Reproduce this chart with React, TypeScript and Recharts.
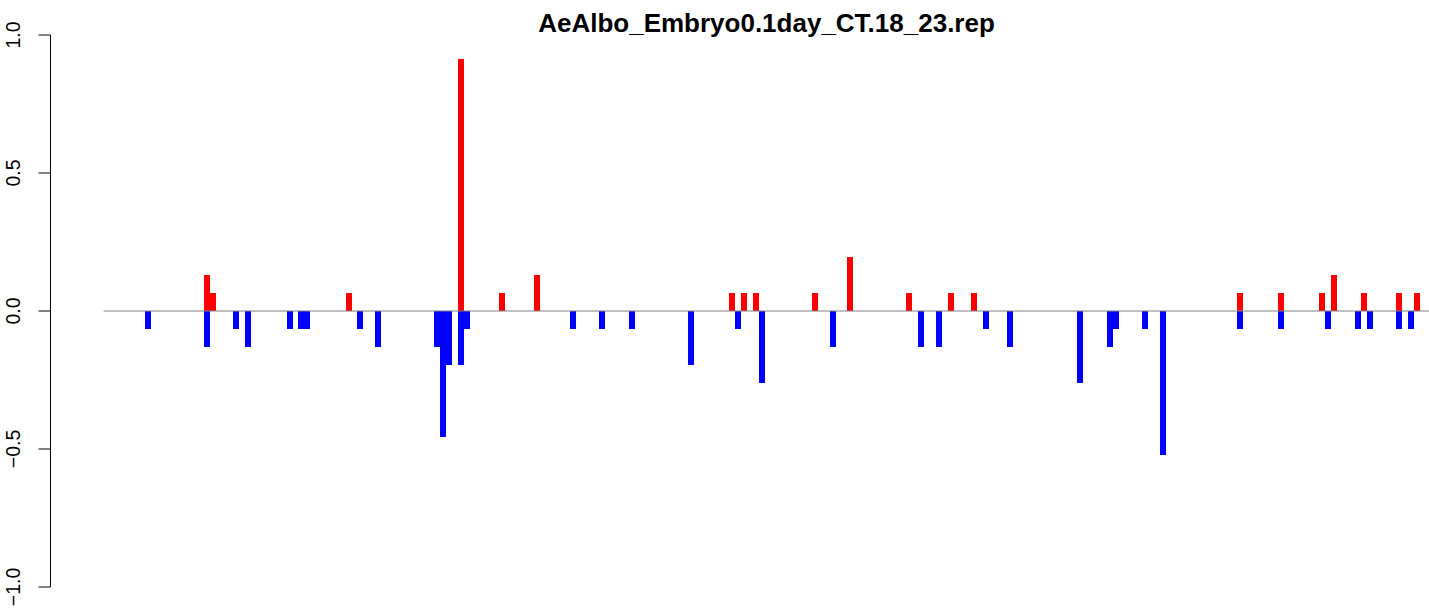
import React from "react";
import { BarChart, Bar, XAxis, YAxis, ReferenceLine } from "recharts";

// bar slot index (one slot per bar position)
const barIndex = [0, 10, 11, 15, 17, 24, 26, 27, 34, 36, 39, 49, 50, 51, 53, 54, 60, 66, 72, 77, 82, 92, 99, 100, 101, 103, 104, 113, 116, 119, 129, 131, 134, 136, 140, 142, 146, 158, 163, 164, 169, 172, 185, 192, 199, 200, 201, 205, 206, 207, 212, 214, 215];
// positive part (red)
const upValue = [0, 0.13, 0.065, 0, 0, 0, 0, 0, 0.065, 0, 0, 0, 0, 0, 0.913, 0, 0.065, 0.13, 0, 0, 0, 0, 0.065, 0, 0.065, 0.065, 0, 0.065, 0, 0.196, 0.065, 0, 0, 0.065, 0.065, 0, 0, 0, 0, 0, 0, 0, 0.065, 0.065, 0.065, 0, 0.13, 0, 0.065, 0, 0.065, 0, 0.065];
// negative part (blue)
const downValue = [-0.065, -0.13, 0, -0.065, -0.13, -0.065, -0.065, -0.065, 0, -0.065, -0.13, -0.13, -0.457, -0.196, -0.196, -0.065, 0, 0, -0.065, -0.065, -0.065, -0.196, 0, -0.065, 0, 0, -0.261, 0, -0.13, 0, 0, -0.13, -0.13, 0, 0, -0.065, -0.13, -0.261, -0.13, -0.065, -0.065, -0.522, -0.065, -0.065, 0, -0.065, 0, -0.065, 0, -0.065, -0.065, -0.065, 0];

const firstSlot = -16;
const lastSlot = 218;
const lineStartSlot = -7;

const yTicks = [-1, -0.5, 0, 0.5, 1];
const yTickLabels = ["\u22121.0", "\u22120.5", "0.0", "0.5", "1.0"];

const title = "AeAlbo_Embryo0.1day_CT.18_23.rep";

const data: { idx: number; up: number; down: number }[] = [];
for (let s = firstSlot; s <= lastSlot; s++) {
  const k = barIndex.indexOf(s);
  data.push({ idx: s, up: k >= 0 ? upValue[k] : 0, down: k >= 0 ? downValue[k] : 0 });
}

const FONT = "'Liberation Sans', Arial, Helvetica, sans-serif";

const YTick = (props: any) => {
  const { x, y, payload } = props;
  const i = yTicks.indexOf(payload.value);
  const label = i >= 0 ? yTickLabels[i] : String(payload.value);
  return (
    <text
      x={x}
      y={y}
      transform={`rotate(-90, ${x}, ${y})`}
      textAnchor="middle"
      fontFamily={FONT}
      fontSize={19.5}
      fill="#000"
    >
      {label}
    </text>
  );
};

export default function App() {
  return (
    <div
      style={{
        position: "fixed",
        left: 0,
        top: 0,
        width: 1429,
        height: 608,
        overflow: "hidden",
        background: "#fff",
      }}
    >
      <BarChart
        width={1438}
        height={608}
        data={data}
        margin={{ top: 35, right: 0.5, bottom: 21, left: 0.5 }}
        barCategoryGap={0}
        barGap={0}
        stackOffset="sign"
      >
        <XAxis dataKey="idx" type="category" hide />
        <YAxis
          type="number"
          domain={[-1, 1]}
          ticks={yTicks}
          interval={0}
          width={50}
          tickSize={12}
          tickMargin={18.5}
          allowDataOverflow
          axisLine={{ stroke: "#000", strokeWidth: 1 }}
          tickLine={{ stroke: "#000", strokeWidth: 1 }}
          tick={<YTick />}
        />
        <ReferenceLine
          segment={[
            { x: lineStartSlot, y: 0 },
            { x: lastSlot, y: 0 },
          ]}
          position="start"
          stroke="#808080"
          strokeWidth={1}
          ifOverflow="visible"
        />
        <Bar dataKey="up" stackId="s" fill="#FF0000" isAnimationActive={false} shapeRendering="crispEdges" />
        <Bar dataKey="down" stackId="s" fill="#0000FF" isAnimationActive={false} shapeRendering="crispEdges" />
      </BarChart>
      <svg
        width={1429}
        height={608}
        style={{ position: "absolute", left: 0, top: 0, pointerEvents: "none" }}
      >
        <text x={766.5} y={32} textAnchor="middle" fontFamily={FONT} fontWeight="bold" fontSize={26} fill="#000">
          {title}
        </text>
      </svg>
    </div>
  );
}
